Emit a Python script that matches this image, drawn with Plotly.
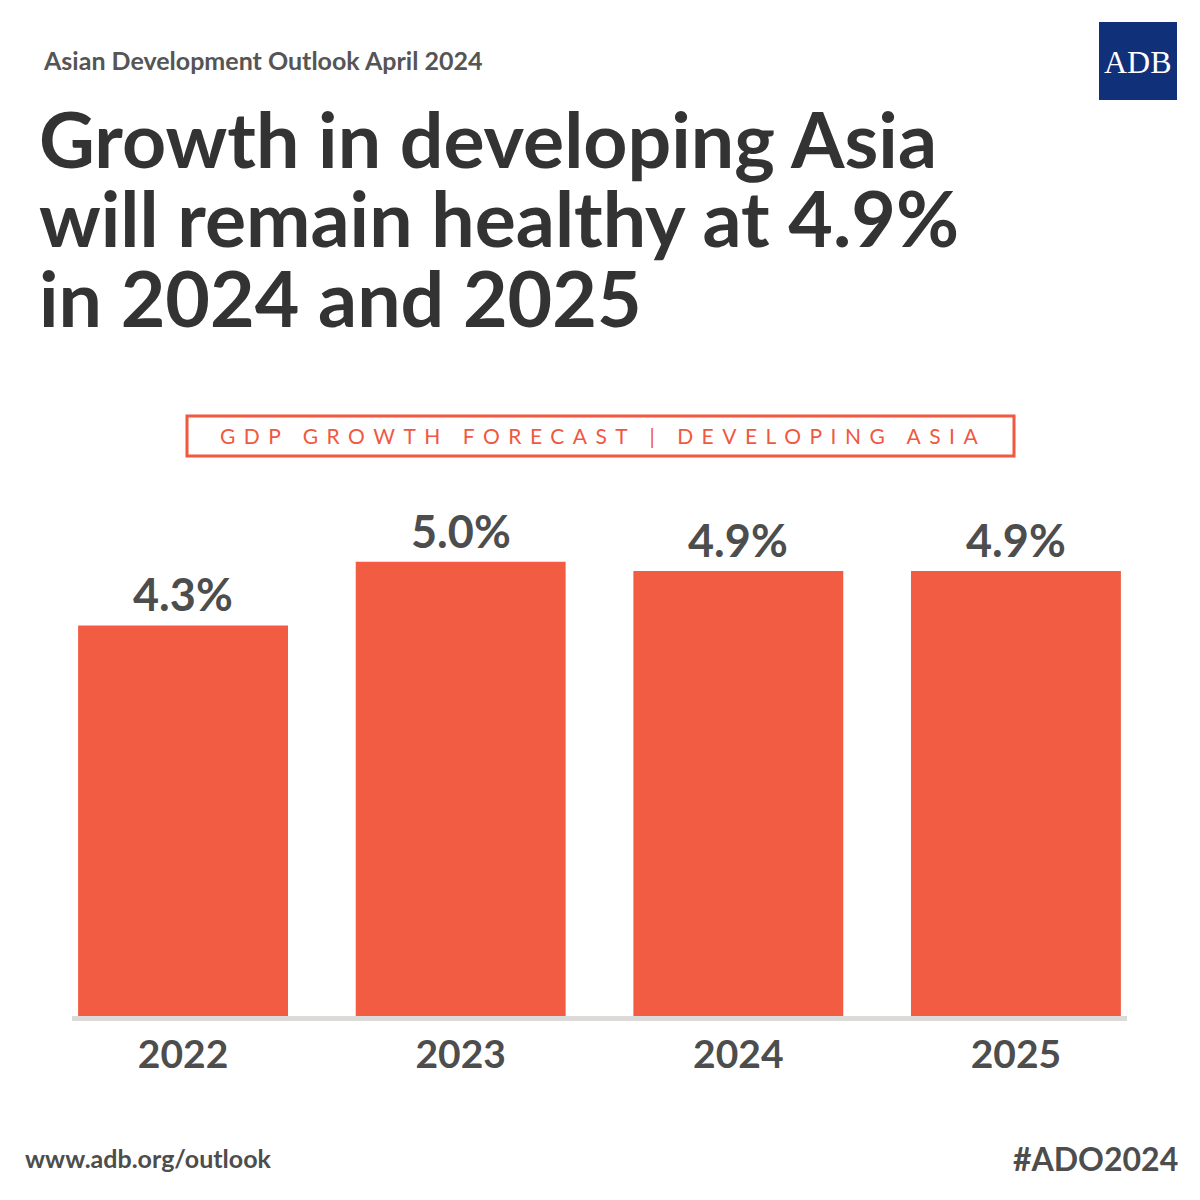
import plotly.graph_objects as go

years = ["2022", "2023", "2024", "2025"]
growth = [4.3, 5.0, 4.9, 4.9]
value_labels = ["4.3%", "5.0%", "4.9%", "4.9%"]

header = "Asian Development Outlook April 2024"
title_lines = ["Growth in developing Asia",
               "will remain healthy at 4.9%",
               "in 2024 and 2025"]
box_label = "GDP GROWTH FORECAST | DEVELOPING ASIA"
footer_left = "www.adb.org/outlook"
footer_right = "#ADO2024"
logo_text = "ADB"

BAR = "#f25c43"
DARK = "#333333"
GRAY = "#4d4d4d"
ACCENT = "#f0583f"
FONT = "Lato"

# The page body has an 8px margin; work in page pixels and convert.
OFF = 8
W = H = 1200 - 2 * OFF
PLOT_L, PLOT_R, PLOT_T, PLOT_B = 72, 1127, 471, 1016  # page pixels
L = PLOT_L - OFF
R = W - (PLOT_R - OFF)
T = PLOT_T - OFF
B = H - (PLOT_B - OFF)
pw, ph = W - L - R, H - T - B


def px(x):
    return (x - OFF - L) / pw


def py(y):
    return (H - (y - OFF) - B) / ph


fig = go.Figure()
fig.add_trace(go.Bar(
    x=years, y=growth,
    marker=dict(color=BAR, line=dict(width=0)),
    hoverinfo="skip",
))

annotations = []
for i, (v, lab) in enumerate(zip(growth, value_labels)):
    annotations.append(dict(
        x=i, y=v, xref="x", yref="y", text=lab, showarrow=False,
        yanchor="middle", xanchor="center", yshift=31,
        font=dict(family=FONT, size=45, color=GRAY, weight="bold"),
    ))


def page_ann(x, y, text, xanchor, size, color, weight="bold", family=FONT,
             align="left"):
    annotations.append(dict(
        x=px(x), y=py(y), xref="paper", yref="paper", text=text,
        showarrow=False, xanchor=xanchor, yanchor="middle", align=align,
        borderpad=0,
        font=dict(family=family, size=size, color=color, weight=weight),
    ))


page_ann(42, 60, header, "left", 25, "#555555")

# Tight leading: base font sets the line spacing (1.3 em), span sets glyph size
title_text = "<br>".join(
    '<span style="font-size:77px">%s</span>' % t for t in title_lines)
page_ann(38, 217, title_text, "left", 61, DARK)

page_ann(603, 436,
         '<span style="letter-spacing:8.5px">%s</span>' % box_label,
         "center", 21, ACCENT, weight="normal")
page_ann(1138, 62, logo_text, "center", 32, "white", weight="normal",
         family="Liberation Serif")
page_ann(24, 1158, footer_left, "left", 25, GRAY)
page_ann(1179, 1158, footer_right, "right", 32, GRAY)

shapes = [
    dict(type="rect", xref="paper", yref="paper",
         x0=px(187), x1=px(1014), y0=py(456), y1=py(416),
         line=dict(color=ACCENT, width=3), fillcolor="rgba(0,0,0,0)"),
    dict(type="rect", xref="paper", yref="paper",
         x0=px(1099), x1=px(1177), y0=py(100), y1=py(22),
         line=dict(width=0), fillcolor="#10307a"),
]

fig.update_layout(
    width=W, height=H,
    margin=dict(l=L, r=R, t=T, b=B, pad=0),
    paper_bgcolor="white", plot_bgcolor="white",
    showlegend=False,
    bargap=0.244,
    annotations=annotations,
    shapes=shapes,
    xaxis=dict(
        type="category", range=[-0.4, 3.4],
        showline=True, linecolor="#dcd9d9", linewidth=5,
        showgrid=False, zeroline=False, ticks="",
        tickfont=dict(family=FONT, size=39, color=GRAY, weight="bold"),
        ticklabelstandoff=0,
    ),
    yaxis=dict(range=[0, 6], visible=False, showgrid=False, zeroline=False),
)

fig.write_html("out.html")
